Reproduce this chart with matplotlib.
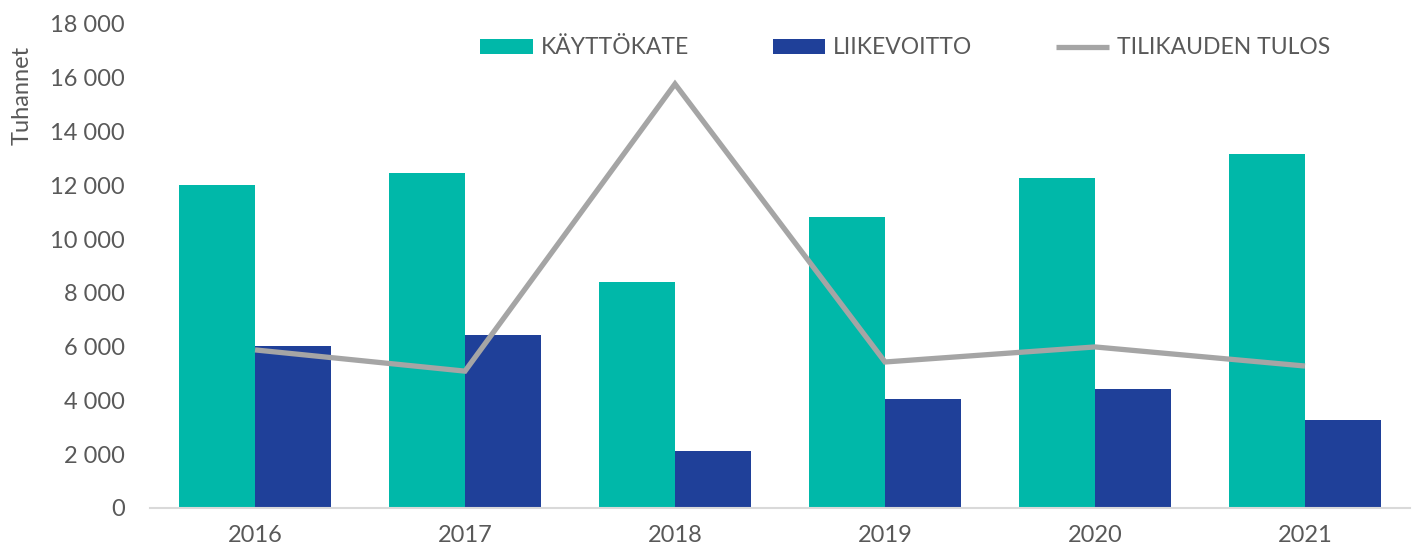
import matplotlib
matplotlib.use("Agg")
import matplotlib.pyplot as plt
import numpy as np
from matplotlib.ticker import FuncFormatter

years = ["2016", "2017", "2018", "2019", "2020", "2021"]
kayttokate = [12000, 12460, 8400, 10820, 12270, 13160]
liikevoitto = [6030, 6430, 2120, 4050, 4430, 3270]
tilikauden_tulos = [5880, 5090, 15770, 5430, 5990, 5280]

plt.rcParams['font.family'] = ['Lato', 'DejaVu Sans']
text_color = '#595959'
teal = '#00B8A9'
blue = '#1F4099'
gray = '#A5A5A5'

fig = plt.figure(figsize=(14.18, 5.52), dpi=100)
ax = fig.add_axes([150/1418, 44/552, 1260/1418, 484/552])

x = np.arange(len(years))
w = 0.362
b1 = ax.bar(x - w/2, kayttokate, width=w, color=teal, label='KÄYTTÖKATE', zorder=2)
b2 = ax.bar(x + w/2, liikevoitto, width=w, color=blue, label='LIIKEVOITTO', zorder=2)
l1, = ax.plot(x, tilikauden_tulos, color=gray, linewidth=3.8, label='TILIKAUDEN TULOS', zorder=3,
              solid_capstyle='butt', solid_joinstyle='miter')

ax.set_xlim(-0.5, len(years) - 0.5)
ax.set_ylim(0, 18000)
ax.set_yticks(np.arange(0, 18001, 2000))
ax.yaxis.set_major_formatter(FuncFormatter(lambda v, p: f"{int(v):,}".replace(",", " ")))
ax.set_xticks(x)
ax.set_xticklabels(years)

for s in ['top', 'right', 'left']:
    ax.spines[s].set_visible(False)
ax.spines['bottom'].set_color('#D9D9D9')
ax.spines['bottom'].set_linewidth(1.5)
ax.tick_params(axis='both', length=0, colors=text_color, labelsize=17)
ax.tick_params(axis='y', pad=18)
ax.tick_params(axis='x', pad=12)

fig.text(22/1418, 1 - 95/552, 'Tuhannet', rotation=90, va='center', ha='center',
         fontsize=17, color=text_color)

leg = fig.legend(handles=[b1, b2, l1], loc='center left',
                 bbox_to_anchor=(480/1418, 1 - 48/552),
                 ncol=3, frameon=False, fontsize=16.5, handlelength=2.3, handleheight=0.6,
                 handletextpad=0.35, columnspacing=3.65, borderpad=0, borderaxespad=0)
for t in leg.get_texts():
    t.set_color(text_color)

fig.savefig('out.png', dpi=100)
